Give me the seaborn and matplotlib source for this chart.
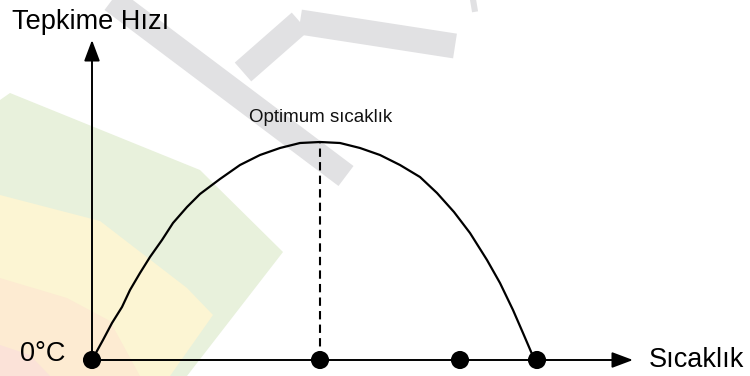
import numpy as np
import pandas as pd
import matplotlib.pyplot as plt
from matplotlib.patches import Polygon
import seaborn as sns

sns.set_theme(style='white')
plt.rcParams['font.family'] = ['Liberation Sans', 'DejaVu Sans']

W, H = 750, 376

# curve (temperature vs reaction rate, arbitrary units)
temperature = [0, 11, 20, 30, 38, 48, 58, 70, 81, 95, 108, 128, 148, 168, 188,
               208, 228, 248, 268, 288, 308, 328, 345, 362, 378, 395, 408, 421,
               431, 440, 445]
rate = [0, 20, 37, 53, 70, 87, 103, 120, 137, 153, 166, 181, 195, 205, 212,
        217, 218, 217, 212, 205, 195, 183, 167, 148, 127, 100, 77, 50,
        27, 6, 0]

# marked points on the temperature axis
dot_temps = [0, 228, 368, 445]
optimum_temp = 228
optimum_rate = 218

y_label = 'Tepkime Hızı'
x_label = 'Sıcaklık'
zero_label = '0°C'
optimum_label = 'Optimum sıcaklık'

df = pd.DataFrame({'temperature': temperature, 'rate': rate})
dots = pd.DataFrame({'temperature': dot_temps, 'rate': [0] * len(dot_temps)})


def px(x, y):
    # picture pixel -> figure fraction, only used for the faint watermark
    return (x / W, 1 - y / H)


fig = plt.figure(figsize=(W / 100, H / 100), dpi=100)
ax = fig.add_axes([0, 0, 1, 1])
ax.set_xlim(-92, 658)
ax.set_ylim(-16, 360)
ax.axis('off')
ax.patch.set_visible(False)

# faint watermark in the background
wm_layers = [
    ('#e8f1dc', [(0, 100), (10, 93), (200, 170), (283, 252), (187, 376), (0, 376)]),
    ('#fcf5d3', [(0, 195), (100, 221), (187, 288), (213, 315), (170, 376), (0, 376)]),
    ('#fdebd2', [(0, 278), (67, 298), (110, 321), (140, 376), (0, 376)]),
    ('#fbe2d8', [(0, 345), (30, 355), (50, 376), (0, 376)]),
]
for color, pts in wm_layers:
    fig.add_artist(Polygon([px(*p) for p in pts], closed=True, facecolor=color,
                           edgecolor='none', transform=fig.transFigure, zorder=-2))
grey = '#e1e1e3'
for (x0, y0), (x1, y1) in [((112, 0), (346, 176)), ((243, 72), (300, 22)),
                           ((300, 22), (455, 46)), ((470, 0), (500, -5))]:
    fig.add_artist(plt.Line2D([x0 / W, x1 / W], [1 - y0 / H, 1 - y1 / H], color=grey,
                              lw=18, solid_capstyle='butt', transform=fig.transFigure,
                              zorder=-1))

# axes with arrow heads
arrow = dict(arrowstyle='-|>,head_length=0.8,head_width=0.3', mutation_scale=16,
             color='black', lw=1.4, shrinkA=0, shrinkB=0)
ax.annotate('', xy=(0, 320), xytext=(0, 0), arrowprops=arrow, zorder=3)
ax.annotate('', xy=(541, 0), xytext=(0, 0), arrowprops=arrow, zorder=3)

# rate curve and optimum line
sns.lineplot(data=df, x='temperature', y='rate', color='black', lw=1.6,
             sort=False, ax=ax, zorder=4, solid_joinstyle='round')
ax.plot([optimum_temp, optimum_temp], [0, optimum_rate], color='black', lw=1.5,
        linestyle=(0, (4, 2.5)), zorder=4)
sns.scatterplot(data=dots, x='temperature', y='rate', color='black', s=170,
                edgecolor='none', ax=ax, zorder=5, legend=False)
ax.set_xlabel('')
ax.set_ylabel('')

# texts
ax.text(-80, 331, y_label, fontsize=19.5, ha='left', va='baseline', color='black')
ax.text(557, -7, x_label, fontsize=19.5, ha='left', va='baseline', color='black')
ax.text(-27, -1, zero_label, fontsize=19.5, ha='right', va='baseline', color='black')
ax.text(optimum_temp + 1, 238, optimum_label, fontsize=13.5, ha='center',
        va='baseline', color='#111111')

fig.savefig('out.png', dpi=100)
